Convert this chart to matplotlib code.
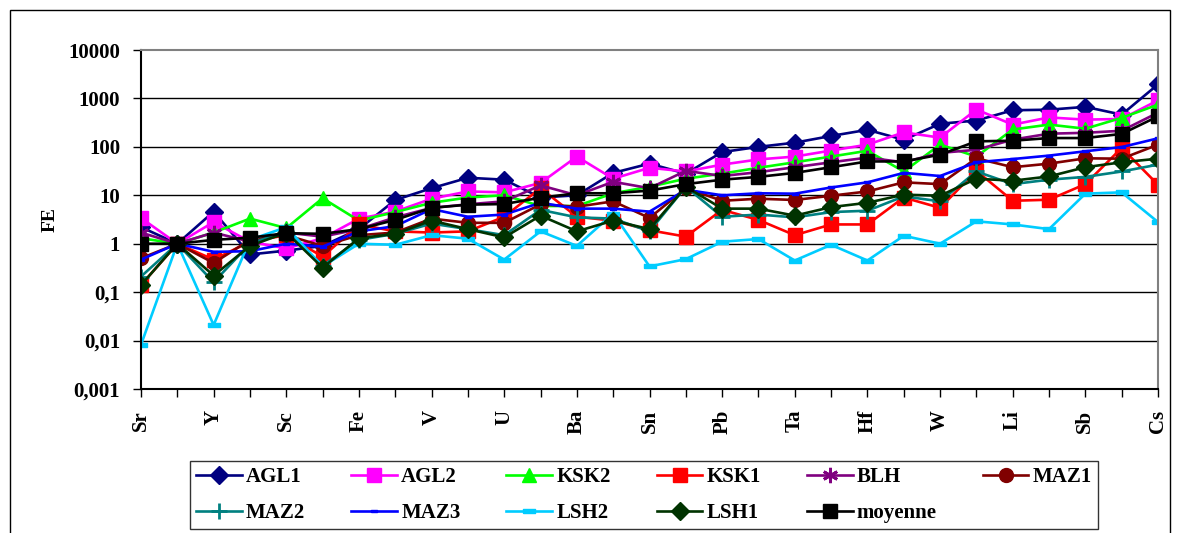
import numpy as np
import matplotlib
matplotlib.use("Agg")
import matplotlib.pyplot as plt
from matplotlib.patches import Rectangle
from matplotlib.ticker import FixedLocator, NullLocator

plt.rcParams['font.family'] = ['Liberation Serif', 'DejaVu Serif']
plt.rcParams['font.weight'] = 'bold'

# categories (only every other one is labelled on the chart)
labels = ['Sr', '', 'Y', '', 'Sc', '', 'Fe', '', 'V', '', 'U', '', 'Ba', '', 'Sn', '',
          'Pb', '', 'Ta', '', 'Hf', '', 'W', '', 'Li', '', 'Sb', '', 'Cs']

AGL1 = [2.2, 1, 4.6, 0.6, 0.72, 0.9, 2, 8, 14, 23, 21, 9, 10, 29, 45, 28,
        78, 100, 122, 168, 225, 140, 300, 350, 570, 585, 670, 463, 1950]
AGL2 = [3.4, 1, 2.8, 1.1, 0.8, 1.3, 3.3, 4.6, 8.5, 12, 11.5, 18, 63, 22, 37, 31,
        43, 55, 63, 84, 111, 199, 155, 590, 288, 405, 365, 377, 915]
KSK2 = [1.3, 1, 1.7, 3.3, 2.1, 8.7, 3, 4.5, 7, 9, 10, 6, 6, 11, 15, 22,
        28, 37, 48, 63, 83, 31, 111, 63, 228, 288, 237, 397, 745]
KSK1 = [0.14, 1, 0.47, 1.1, 1.5, 0.54, 2.5, 1.8, 1.7, 1.8, 3.6, 14, 3.6, 3, 1.9, 1.4,
        5, 3.1, 1.5, 2.5, 2.5, 9, 5.5, 32, 7.7, 8.1, 17, 95, 16.5]
BLH = [1.7, 1, 1.7, 1.1, 1.7, 1.4, 2, 3.5, 5.5, 6.5, 7.5, 16, 10, 19, 14, 32,
       25, 30, 38, 48, 60, 48, 75, 87, 141, 187, 195, 215, 508]
MAZ1 = [0.5, 1, 0.4, 1.2, 1.5, 0.9, 1.5, 1.7, 3.3, 2.7, 2.7, 6.5, 5.8, 7.5, 3.4, 14,
        7.7, 8.5, 8, 9.8, 12, 18.5, 17, 58, 38, 45, 58, 57, 111]
MAZ2 = [0.21, 1, 0.16, 1, 1.8, 0.35, 1.2, 1.6, 2.6, 2, 1.5, 5, 3.5, 3.3, 1.8, 15,
        3.6, 4, 3.5, 4.5, 4.8, 9.5, 7.5, 31, 17, 21, 24, 31, 43]
MAZ3 = [0.47, 1, 0.68, 0.7, 1, 0.87, 1.8, 2.3, 5.2, 3.6, 4, 7, 5.3, 5.3, 4.6, 13,
        10, 11, 10.8, 14.5, 18.5, 29, 25, 48, 56, 66, 81, 99, 150]
LSH2 = [0.0082, 1, 0.021, 1.2, 2.2, 0.34, 1, 0.95, 1.5, 1.27, 0.47, 1.8, 0.9, 4.2, 0.34, 0.48,
        1.1, 1.25, 0.45, 0.95, 0.45, 1.46, 1, 2.9, 2.5, 2.0, 10.8, 11.5, 2.8]
LSH1 = [0.14, 1, 0.22, 0.9, 1.7, 0.32, 1.3, 1.6, 3, 2, 1.35, 3.8, 1.8, 3, 2, 15,
        5.3, 5.3, 3.8, 5.7, 7, 10.3, 9.8, 22, 20, 24.5, 38, 48, 57]
moyenne = [1, 1, 1.2, 1.33, 1.65, 1.6, 2, 3.1, 5.5, 6.4, 6.6, 8.9, 11, 11, 12.5, 17,
           21, 24, 29, 38, 50, 50, 69, 130, 134, 152, 152, 185, 426]

bar = [(-1, -0.42), (1, -0.42), (1, 0.42), (-1, 0.42), (-1, -0.42)]

series = [
    ('AGL1', AGL1, '#000080', 'D', 9),
    ('AGL2', AGL2, '#FF00FF', 's', 10),
    ('KSK2', KSK2, '#00FF00', '^', 10),
    ('KSK1', KSK1, '#FF0000', 's', 10),
    ('BLH', BLH, '#800080', (6, 2, 0), 11),
    ('MAZ1', MAZ1, '#800000', 'o', 10),
    ('MAZ2', MAZ2, '#008080', '+', 11),
    ('MAZ3', MAZ3, '#0000FF', bar, 5),
    ('LSH2', LSH2, '#00CCFF', bar, 8),
    ('LSH1', LSH1, '#003300', 'D', 9),
    ('moyenne', moyenne, '#000000', 's', 10),
]

fig = plt.figure(figsize=(11.8, 5.33), dpi=100)
ax = fig.add_axes([141 / 1180, 1 - 389 / 533, (1158 - 141) / 1180, (389 - 50) / 533])

x = np.arange(len(labels))
lines = []
for name, vals, col, mk, ms in series:
    if mk in ('+',) or isinstance(mk, tuple):
        l, = ax.plot(x, vals, color=col, lw=1.9, marker=mk, ms=ms, mec=col, mew=2, label=name)
    else:
        l, = ax.plot(x, vals, color=col, lw=1.9, marker=mk, ms=ms, mfc=col, mec=col, label=name)
    lines.append(l)

ax.set_yscale('log')
ax.set_ylim(0.001, 10000)
ax.set_xlim(0, len(labels) - 1)
yt = [0.001, 0.01, 0.1, 1, 10, 100, 1000, 10000]
ax.yaxis.set_major_locator(FixedLocator(yt))
ax.yaxis.set_minor_locator(NullLocator())
ax.set_yticklabels(['0,001', '0,01', '0,1', '1', '10', '100', '1000', '10000'],
                   fontsize=15, fontweight='bold')
ax.set_xticks(x)
ax.set_xticklabels(labels, rotation=90, fontsize=15, fontweight='bold')
ax.tick_params(axis='both', direction='out', length=6, width=1, color='black')
ax.tick_params(axis='y', pad=9)
ax.tick_params(axis='x', pad=9)
for y in yt[1:-1]:
    ax.axhline(y, color='black', lw=1, zorder=0)

ax.spines['left'].set_color('black')
ax.spines['bottom'].set_color('black')
ax.spines['top'].set_color('#808080')
ax.spines['right'].set_color('#808080')
for s in ax.spines.values():
    s.set_linewidth(1.5)

fig.text(50 / 1180, 1 - 220 / 533, 'FE', rotation=90, fontsize=14, fontweight='bold',
         ha='center', va='center')

# legend is filled column by column, so reorder to read row by row
order = [0, 6, 1, 7, 2, 8, 3, 9, 4, 10, 5]
leg = fig.legend([lines[i] for i in order], [series[i][0] for i in order],
                 loc='center', bbox_to_anchor=(644 / 1180, 1 - 495 / 533), ncol=6,
                 frameon=True, fancybox=False, handlelength=2.2,
                 handletextpad=0.2, columnspacing=2.2, labelspacing=0.75,
                 borderpad=0.3, prop={'weight': 'bold', 'size': 15})
leg.get_frame().set_edgecolor('black')
leg.get_frame().set_linewidth(1)

# outer chart border
fig.patches.append(Rectangle((10 / 1180, -0.05), 1160 / 1180, 1.05 - 10 / 533,
                             transform=fig.transFigure, fill=False,
                             edgecolor='black', lw=1))

fig.savefig('out.png', dpi=100)
